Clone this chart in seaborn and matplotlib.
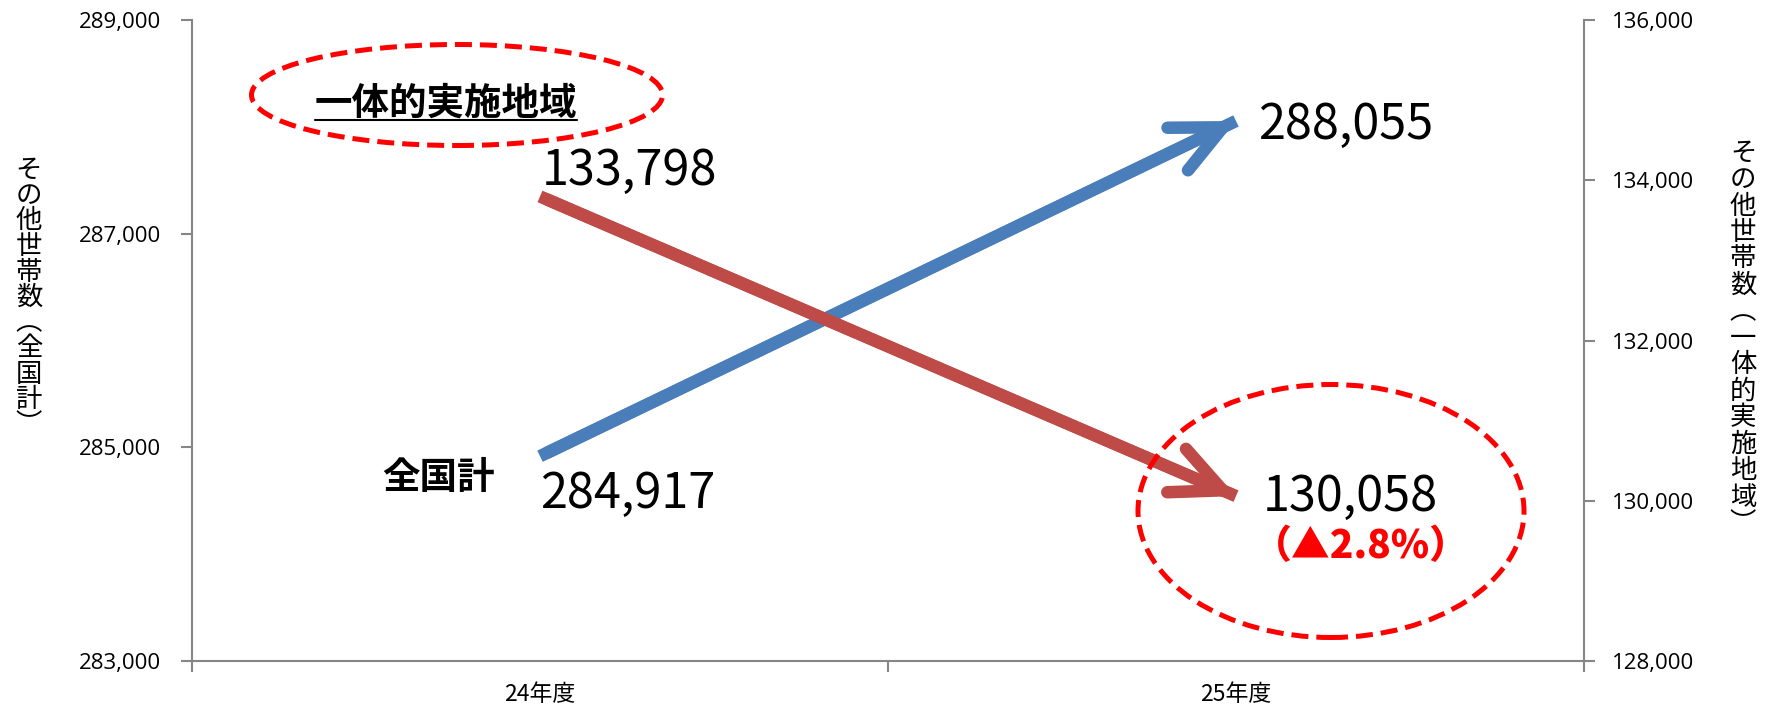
import numpy as np
import pandas as pd
import matplotlib.pyplot as plt
import seaborn as sns
from matplotlib.patches import Ellipse
from matplotlib.lines import Line2D

# data
years = ['24年度', '25年度']
national = [284917, 288055]        # 全国計 (left axis)
integrated = [133798, 130058]      # 一体的実施地域 (right axis)
left_ticks = [283000, 285000, 287000, 289000]
right_ticks = [128000, 130000, 132000, 134000, 136000]
left_label = 'その他世帯数︵全国計︶'
right_label = 'その他世帯数︵一体的実施地域︶'
change_label = '（▲2.8%）'

W, H = 1767, 708
blue = '#4A7EBB'
red = '#BE4B48'
gray = '#868686'

sns.set_theme(style='white')
plt.rcParams['font.family'] = ['Noto Sans CJK JP', 'DejaVu Sans']

df = pd.DataFrame({'year': years, 'national': national, 'integrated': integrated})
df['x'] = np.arange(len(df))

fig = plt.figure(figsize=(W / 100, H / 100), dpi=100)
ax = fig.add_axes([192 / W, 1 - 661 / H, (1584 - 192) / W, (661 - 20) / H])
ax2 = ax.twinx()

# lines
sns.lineplot(data=df, x='x', y='national', ax=ax, color=blue, lw=9, solid_capstyle='butt')
sns.lineplot(data=df, x='x', y='integrated', ax=ax2, color=red, lw=9, solid_capstyle='butt')

# arrow heads on top of the lines
arrow_style = '->,head_length=36,head_width=17'
ax.annotate('', xy=(df['x'][1], national[1]), xytext=(df['x'][0], national[0]),
            arrowprops=dict(arrowstyle=arrow_style, lw=9, color=blue, shrinkA=6, shrinkB=0,
                            mutation_scale=1, capstyle='round', joinstyle='round'))
ax2.annotate('', xy=(df['x'][1], integrated[1]), xytext=(df['x'][0], integrated[0]),
             arrowprops=dict(arrowstyle=arrow_style, lw=9, color=red, shrinkA=6, shrinkB=0,
                             mutation_scale=1, capstyle='round', joinstyle='round'))

# axes limits and ticks
ax.set_xlim(-0.5, 1.5)
ax.set_ylim(283000, 289000)
ax2.set_ylim(128000, 136000)
ax.set_xticks([-0.5, 0.5, 1.5])
ax.set_xticklabels([])
ax.set_xticks(df['x'], minor=True)
ax.set_xticklabels(years, minor=True)
ax.set_yticks(left_ticks)
ax.set_yticklabels([f'{v:,}' for v in left_ticks])
ax2.set_yticks(right_ticks)
ax2.set_yticklabels([f'{v:,}' for v in right_ticks])
ax.set_xlabel('')
ax.set_ylabel('')
ax2.set_ylabel('')
ax.grid(False)
ax2.grid(False)

ax.tick_params(axis='x', which='major', bottom=True, direction='out', length=8, width=1.5, color=gray)
ax.tick_params(axis='x', which='minor', bottom=True, length=0, pad=16, labelsize=16.5, labelcolor='black')
ax.tick_params(axis='y', left=True, direction='out', length=8, width=1.5, color=gray, pad=14,
               labelsize=16, labelcolor='black', labelfontfamily='Open Sans')
ax2.tick_params(axis='y', right=True, direction='out', length=8, width=1.5, color=gray, pad=12,
                labelsize=16, labelcolor='black', labelfontfamily='Open Sans')

for s in ['top', 'right']:
    ax.spines[s].set_visible(False)
for s in ['top', 'left', 'bottom']:
    ax2.spines[s].set_visible(False)
for sp in [ax.spines['left'], ax.spines['bottom'], ax2.spines['right']]:
    sp.set_color(gray)
    sp.set_linewidth(1.5)

# value labels
ax.annotate(f'{national[0]:,}', xy=(df['x'][0], national[0]), xytext=(0, -37),
            textcoords='offset points', ha='left', va='baseline', fontsize=35, color='black')
ax.annotate(f'{national[1]:,}', xy=(df['x'][1], national[1]), xytext=(16, -13),
            textcoords='offset points', ha='left', va='baseline', fontsize=35, color='black')
ax2.annotate(f'{integrated[0]:,}', xy=(df['x'][0], integrated[0]), xytext=(1, 8),
             textcoords='offset points', ha='left', va='baseline', fontsize=35, color='black')
ax2.annotate(f'{integrated[1]:,}', xy=(df['x'][1], integrated[1]), xytext=(19, -11),
             textcoords='offset points', ha='left', va='baseline', fontsize=35, color='black')

fig.text(1361 / W, 1 - 546 / H, change_label, ha='center', va='center', fontsize=28,
         fontweight='black', color='#FF0000')

# series names
t1 = fig.text(446 / W, 1 - 103 / H, '一体的実施地域', ha='center', va='center', fontsize=27,
              fontweight='bold', color='black')
fig.text(438 / W, 1 - 477 / H, '全国計', ha='center', va='center', fontsize=27,
         fontweight='bold', color='black')

# vertical axis titles, one character per row
for i, ch in enumerate(left_label):
    fig.text(29 / W, 1 - (170 + i * 25.5) / H, ch, ha='center', va='center', fontsize=19, color='black')
for i, ch in enumerate(right_label):
    fig.text(1743 / W, 1 - (153 + i * 26.5) / H, ch, ha='center', va='center', fontsize=19, color='black')

# dashed red ellipses
fig.add_artist(Ellipse((457 / W, 1 - 95 / H), 411 / W, 101 / H, transform=fig.transFigure,
                       fill=False, ec='#FF0000', lw=3.6, ls=(0, (3.4, 1.6))))
fig.add_artist(Ellipse((1331 / W, 1 - 511 / H), 386 / W, 253 / H, transform=fig.transFigure,
                       fill=False, ec='#FF0000', lw=3.6, ls=(0, (3.4, 1.6))))

# underline for 一体的実施地域
fig.canvas.draw()
bb = t1.get_window_extent(fig.canvas.get_renderer())
fig.add_artist(Line2D([bb.x0 / W, bb.x1 / W], [1 - 120 / H, 1 - 120 / H],
                      transform=fig.transFigure, color='black', lw=1.5))

fig.savefig('out.png', dpi=100)
